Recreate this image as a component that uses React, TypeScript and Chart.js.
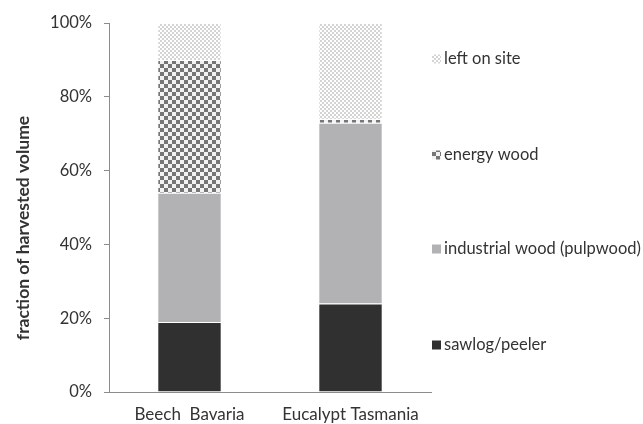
import React, { useEffect, useRef } from "react";
import { Chart, registerables } from "chart.js";

Chart.register(...registerables);

const categories = ["Beech  Bavaria", "Eucalypt Tasmania"];
const seriesNames = ["sawlog/peeler", "industrial wood (pulpwood)", "energy wood", "left on site"];
const sawlog = [19, 24];
const industrial = [35, 49];
const energy = [36, 1];
const leftOnSite = [10, 26];
const yTicks = [0, 20, 40, 60, 80, 100];
const yTitle = "fraction of harvested volume";

const FONT = "Lato, 'Open Sans', sans-serif";
const TEXT = "#333333";
const AXIS = "#8c8c8c";

function makePattern(kind: "checker" | "dots"): CanvasPattern | string {
  const c = document.createElement("canvas");
  const ctx = c.getContext("2d");
  if (!ctx) return "#888";
  if (kind === "checker") {
    c.width = 8;
    c.height = 8;
    ctx.fillStyle = "#f2f2f2";
    ctx.fillRect(0, 0, 8, 8);
    ctx.fillStyle = "#767676";
    ctx.fillRect(0, 0, 4, 4);
    ctx.fillRect(4, 4, 4, 4);
  } else {
    c.width = 4;
    c.height = 4;
    ctx.fillStyle = "#ffffff";
    ctx.fillRect(0, 0, 4, 4);
    ctx.fillStyle = "#d4d4d4";
    ctx.fillRect(0, 0, 2, 2);
    ctx.fillRect(2, 2, 2, 2);
  }
  return ctx.createPattern(c, "repeat") || "#888";
}

export default function App() {
  const ref = useRef<HTMLCanvasElement | null>(null);

  useEffect(() => {
    if (!ref.current) return;
    const checker = makePattern("checker");
    const dots = makePattern("dots");
    const fills: (string | CanvasPattern)[] = ["#303030", "#b2b2b5", checker, dots];
    const values = [sawlog, industrial, energy, leftOnSite];

    const legendPlugin = {
      id: "customLegend",
      afterDraw(chart: any) {
        const ctx = chart.ctx as CanvasRenderingContext2D;
        const order = [3, 2, 1, 0];
        const ys = [59, 155, 249, 345];
        ctx.save();
        order.forEach((di, i) => {
          const y = ys[i];
          ctx.fillStyle = fills[di] as any;
          ctx.fillRect(432, y - 4.5, 9, 9);
          ctx.fillStyle = TEXT;
          ctx.font = `16.5px ${FONT}`;
          ctx.textBaseline = "middle";
          ctx.textAlign = "left";
          ctx.fillText(seriesNames[di], 444, y);
        });
        // y axis title
        ctx.translate(23, 228);
        ctx.rotate(-Math.PI / 2);
        ctx.font = `bold 17.5px ${FONT}`;
        ctx.fillStyle = TEXT;
        ctx.textAlign = "center";
        ctx.textBaseline = "middle";
        ctx.fillText(yTitle, 0, 0);
        ctx.restore();
      },
    };

    const chart = new Chart(ref.current, {
      type: "bar",
      data: {
        labels: categories,
        datasets: seriesNames.map((name, i) => ({
          label: name,
          data: values[i],
          backgroundColor: fills[i] as any,
          borderColor: "#ffffff",
          borderWidth: 1,
          categoryPercentage: 1,
          barPercentage: 0.4,
        })),
      },
      options: {
        responsive: false,
        animation: false,
        layout: { padding: { left: 0, right: 212, top: 23, bottom: 0 } },
        plugins: { legend: { display: false }, tooltip: { enabled: false } },
        scales: {
          x: {
            stacked: true,
            grid: { display: false },
            border: { display: true, color: AXIS, width: 1 },
            ticks: { color: TEXT, font: { family: FONT, size: 17 }, padding: 4 },
            afterFit(scale: any) {
              scale.height = 32;
            },
          },
          y: {
            stacked: true,
            min: 0,
            max: 100,
            afterBuildTicks(scale: any) {
              scale.ticks = yTicks.map((v) => ({ value: v }));
            },
            grid: { display: true, drawOnChartArea: false, drawTicks: true, tickLength: 5, color: AXIS },
            border: { display: true, color: AXIS, width: 1 },
            ticks: {
              color: TEXT,
              font: { family: FONT, size: 16.5 },
              padding: 12,
              callback: (v: any) => `${v}%`,
            },
            afterFit(scale: any) {
              scale.width = 109;
            },
          },
        },
      },
      plugins: [legendPlugin],
    });
    return () => chart.destroy();
  }, []);

  return (
    <div style={{ position: "absolute", left: 0, top: 0, width: 643, height: 424, background: "#fff" }}>
      <canvas ref={ref} width={643} height={424} style={{ display: "block" }} />
    </div>
  );
}
